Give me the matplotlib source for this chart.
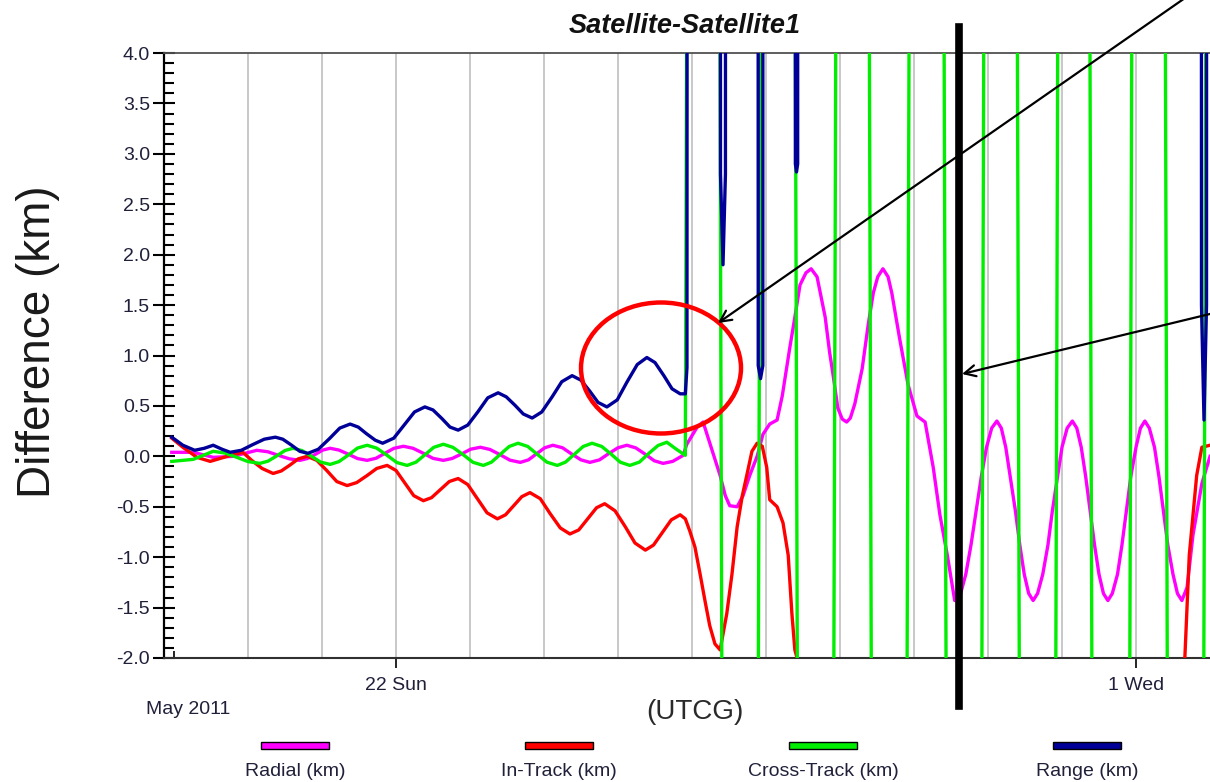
import matplotlib
matplotlib.use('Agg')
import matplotlib.pyplot as plt
from matplotlib.patches import Ellipse, Rectangle, FancyArrowPatch
from matplotlib.lines import Line2D
from matplotlib.ticker import MultipleLocator, FixedLocator, FormatStrFormatter

plt.rcParams['font.family'] = ['Liberation Sans', 'DejaVu Sans']

# time axis: day of May 2011 (32 = 1 June), values in km
radial_t = [18.97, 19.26, 19.53, 19.80, 20.12, 20.27, 20.41, 20.56, 20.70, 20.80,
            20.91, 21.01, 21.11, 21.23, 21.36, 21.48, 21.61, 21.73, 21.85, 21.97,
            22.10, 22.23, 22.37, 22.50, 22.64, 22.76, 22.89, 23.01, 23.14, 23.27,
            23.41, 23.54, 23.68, 23.79, 23.90, 24.01, 24.12, 24.25, 24.37, 24.50,
            24.62, 24.75, 24.87, 25.00, 25.12, 25.24, 25.37, 25.49, 25.61, 25.74,
            25.88, 25.93, 26.07, 26.15,
            26.28, 26.38, 26.45, 26.51, 26.61, 26.69, 26.78, 26.88, 26.96, 27.05,
            27.15, 27.22, 27.32, 27.39, 27.46, 27.54, 27.61, 27.69, 27.80, 27.86,
            27.91, 27.97, 28.03, 28.09, 28.14, 28.20, 28.30, 28.38, 28.45, 28.51,
            28.58, 28.65, 28.70, 28.81, 28.92, 29.04, 29.15, 29.26, 29.35, 29.45,
            29.55, 29.63, 29.70, 29.77, 29.84, 29.91, 29.98, 30.05, 30.12,
            30.18, 30.24, 30.30, 30.37, 30.43, 30.49, 30.55, 30.61,
            30.67, 30.74, 30.81, 30.87, 30.94, 31.00, 31.07, 31.14,
            31.20, 31.26, 31.32, 31.38, 31.44, 31.50, 31.56, 31.62,
            31.68, 31.75, 31.81, 31.87, 31.93, 32.00, 32.06, 32.12,
            32.18, 32.25, 32.31, 32.37, 32.43, 32.50, 32.56, 32.62,
            32.69, 32.77, 32.89, 33.00]
radial_v = [0.04, 0.04, -0.01, 0.00, 0.06, 0.045, 0.01, -0.025, -0.04, -0.022,
            0.02, 0.062, 0.08, 0.062, 0.02, -0.022, -0.04, -0.019, 0.03, 0.079,
            0.10, 0.08, 0.03, -0.02, -0.04, -0.021, 0.025, 0.071, 0.09, 0.068,
            0.015, -0.038, -0.06, -0.035, 0.025, 0.085, 0.11, 0.085, 0.025, -0.035,
            -0.06, -0.035, 0.025, 0.085, 0.11, 0.084, 0.02, -0.044, -0.07, -0.05,
            0.01, 0.12, 0.29, 0.34,
            0.04, -0.19, -0.39, -0.49, -0.50, -0.39, -0.19, 0.00, 0.22, 0.32,
            0.36, 0.60, 1.07, 1.38, 1.70, 1.82, 1.86, 1.78, 1.38, 1.03,
            0.79, 0.48, 0.37, 0.34, 0.38, 0.52, 0.87, 1.30, 1.62, 1.78,
            1.86, 1.78, 1.62, 1.15, 0.71, 0.40, 0.34, -0.11, -0.58, -0.98,
            -1.43, -1.36, -1.17, -0.88, -0.54, -0.20, 0.09, 0.28, 0.35,
            0.28, 0.09, -0.20, -0.54, -0.88, -1.17, -1.36, -1.43,
            -1.36, -1.17, -0.88, -0.54, -0.20, 0.09, 0.28, 0.35,
            0.28, 0.09, -0.20, -0.54, -0.88, -1.17, -1.36, -1.43,
            -1.36, -1.17, -0.88, -0.54, -0.20, 0.09, 0.28, 0.35,
            0.28, 0.09, -0.20, -0.54, -0.88, -1.17, -1.36, -1.43,
            -1.30, -0.78, -0.27, 0.00]

intrack_t = [18.97, 19.12, 19.31, 19.49, 19.72, 19.93, 20.05, 20.19, 20.34, 20.45,
             20.57, 20.68, 20.80, 20.93, 21.07, 21.20, 21.34, 21.47, 21.61, 21.74,
             21.88, 22.00, 22.12, 22.24, 22.37, 22.48, 22.60, 22.72, 22.84, 22.97,
             23.10, 23.23, 23.37, 23.48, 23.59, 23.70, 23.81, 23.95, 24.08, 24.22,
             24.35, 24.47, 24.59, 24.71, 24.82, 24.96, 25.10, 25.23, 25.37, 25.48,
             25.60, 25.72, 25.84, 25.91, 25.97, 26.04, 26.11,
             26.18, 26.24, 26.31, 26.38, 26.42, 26.47, 26.54, 26.61, 26.68, 26.74,
             26.81, 26.88, 26.95, 27.01, 27.05, 27.15, 27.23, 27.30, 27.35, 27.39,
             27.42, 27.46, 32.59, 32.66, 32.72, 32.82, 32.89, 33.00]
intrack_v = [0.18, 0.09, -0.01, -0.05, 0.00, 0.04, -0.04, -0.12, -0.17, -0.145,
             -0.085, -0.025, 0.00, -0.04, -0.145, -0.25, -0.29, -0.26, -0.19, -0.12,
             -0.09, -0.14, -0.265, -0.39, -0.44, -0.41, -0.33, -0.25, -0.22, -0.28,
             -0.42, -0.56, -0.62, -0.58, -0.49, -0.40, -0.36, -0.42, -0.565, -0.71,
             -0.77, -0.73, -0.62, -0.51, -0.47, -0.54, -0.70, -0.86, -0.93, -0.88,
             -0.755, -0.63, -0.58, -0.62, -0.74, -0.90, -1.17,
             -1.45, -1.68, -1.86, -1.92, -1.76, -1.56, -1.17, -0.70, -0.39, -0.19,
             0.05, 0.13, 0.10, -0.11, -0.43, -0.50, -0.66, -0.98, -1.56, -1.92,
             -2.00, -3.00, -3.00, -2.00, -0.98, -0.19, 0.09, 0.11]

cross_t = [18.97, 19.26, 19.53, 19.69, 19.85, 20.00, 20.16, 20.27, 20.39, 20.50,
           20.61, 20.73, 20.86, 20.98, 21.11, 21.23, 21.36, 21.48, 21.61, 21.74,
           21.88, 22.01, 22.15, 22.27, 22.39, 22.51, 22.64, 22.77, 22.91, 23.04,
           23.18, 23.29, 23.41, 23.53, 23.65, 23.78, 23.91, 24.04, 24.18, 24.29,
           24.41, 24.53, 24.65, 24.78, 24.91, 25.03, 25.16, 25.29, 25.41, 25.54,
           25.66, 25.78, 25.91,
           26.16, 26.39, 26.65, 26.91, 27.16, 27.41, 27.67, 27.93, 28.17, 28.41,
           28.66, 28.92, 29.17, 29.42, 29.68, 29.93, 30.17, 30.41, 30.66, 30.93,
           31.16, 31.39, 31.66, 31.93, 32.17, 32.41, 32.66, 32.93, 33.17]
cross_v = [-0.05, -0.03, 0.05, 0.032, -0.01, -0.052, -0.07, -0.048, 0.005, 0.058,
           0.08, 0.057, 0.00, -0.057, -0.08, -0.052, 0.015, 0.082, 0.11, 0.081,
           0.01, -0.061, -0.09, -0.058, 0.015, 0.089, 0.12, 0.089, 0.015, -0.059,
           -0.09, -0.058, 0.02, 0.098, 0.13, 0.098, 0.02, -0.058, -0.09, -0.058,
           0.02, 0.098, 0.13, 0.098, 0.02, -0.058, -0.09, -0.057, 0.025, 0.107,
           0.14, 0.075, 0.01,
           60, 1.0, -60, 1.0, 60, 1.0, -60, 1.0, 60, 1.0,
           -60, 1.0, 60, 1.0, -60, 1.0, 60, 1.0, -60, 1.0,
           60, 1.0, -60, 1.0, 60, 1.0, -60, 1.0, 60]

range_t = [18.97, 19.12, 19.28, 19.41, 19.53, 19.65, 19.76, 19.91, 20.06, 20.22,
           20.37, 20.47, 20.59, 20.70, 20.81, 20.95, 21.10, 21.24, 21.38, 21.49,
           21.60, 21.72, 21.82, 21.97, 22.11, 22.25, 22.39, 22.50, 22.62, 22.73,
           22.84, 22.97, 23.11, 23.24, 23.38, 23.49, 23.61, 23.72, 23.84, 23.97,
           24.11, 24.24, 24.38, 24.50, 24.62, 24.73, 24.85, 24.99, 25.12, 25.26,
           25.39, 25.50, 25.62, 25.73, 25.84, 25.91,
           25.932, 25.94, 26.378, 26.385, 26.419, 26.452, 26.459,
           26.889, 26.895, 26.926, 26.957, 26.962,
           27.392, 27.397, 27.412, 27.428, 27.432,
           32.878, 32.885, 32.919, 32.953, 32.959, 33.1]
range_v = [0.19, 0.11, 0.06, 0.08, 0.11, 0.07, 0.04, 0.06, 0.115, 0.17,
           0.19, 0.17, 0.11, 0.05, 0.03, 0.07, 0.175, 0.28, 0.32, 0.29,
           0.225, 0.16, 0.13, 0.18, 0.31, 0.44, 0.49, 0.46, 0.375, 0.29,
           0.26, 0.31, 0.445, 0.58, 0.63, 0.59, 0.505, 0.42, 0.38, 0.44,
           0.59, 0.74, 0.80, 0.755, 0.645, 0.535, 0.49, 0.56, 0.735, 0.91,
           0.98, 0.93, 0.80, 0.67, 0.62, 0.62,
           0.88, 25, 25, 2.8, 1.9, 2.8, 25,
           25, 0.9, 0.77, 0.9, 25,
           25, 2.9, 2.82, 2.9, 25,
           25, 1.5, 0.36, 1.5, 25, 25]

series = [
    ('Radial (km)', radial_t, radial_v, '#ff00ff'),
    ('In-Track (km)', intrack_t, intrack_v, '#ff0000'),
    ('Cross-Track (km)', cross_t, cross_v, '#00ee00'),
    ('Range (km)', range_t, range_v, '#000099'),
]

W, H = 1210, 782
fig = plt.figure(figsize=(W / 100, H / 100), dpi=100)
ax = fig.add_axes([164 / W, (H - 658) / H, (W - 164) / W, 605 / H])

# day gridlines
ax.vlines(range(20, 33), -2, 4, colors='#c4c4c4', lw=1.3, zorder=1)

for name, t, v, c in series:
    ax.plot(t, v, color=c, lw=2.4, zorder=3)

ax.set_xlim(18.865, 33.0)
ax.set_ylim(-2, 4)

tick_col = '#20203a'
ax.yaxis.set_major_locator(MultipleLocator(0.5))
ax.yaxis.set_minor_locator(MultipleLocator(0.1))
ax.yaxis.set_major_formatter(FormatStrFormatter('%.1f'))
ax.tick_params(axis='y', which='major', direction='inout', length=16, width=1.5,
               labelsize=14, labelcolor=tick_col, pad=2)
ax.tick_params(axis='y', which='minor', direction='in', length=7, width=1.5)

ax.xaxis.set_major_locator(FixedLocator([22, 32]))
ax.set_xticklabels(['22 Sun', '1 Wed'])
ax.xaxis.set_minor_locator(FixedLocator([19]))
ax.tick_params(axis='x', which='major', direction='out', length=7, width=1.2,
               labelsize=14, labelcolor=tick_col, pad=7)
ax.tick_params(axis='x', which='minor', direction='in', length=5, width=1.2)

ax.spines['right'].set_visible(False)
ax.spines['left'].set_linewidth(1.6)
ax.spines['left'].set_color('black')
ax.spines['bottom'].set_linewidth(1.5)
ax.spines['bottom'].set_color('#303030')
ax.spines['top'].set_linewidth(1.3)
ax.spines['top'].set_color('#505050')


def fx(x):
    return x / W


def fy(y):
    return 1 - y / H


fig.text(fx(685), fy(26), 'Satellite-Satellite1', ha='center', va='center',
         fontsize=19.5, weight='bold', style='italic', color='#111111')
fig.text(fx(38), fy(342), 'Difference (km)', rotation=90, ha='center', va='center',
         fontsize=33, color='#1a1a1a')
fig.text(fx(695), fy(712), '(UTCG)', ha='center', va='center', fontsize=20,
         color='#2a2a2a')
fig.text(fx(188), fy(709), 'May 2011', ha='center', va='center', fontsize=14,
         color=tick_col)

# legend: colored bars with labels underneath
for i, (name, t, v, c) in enumerate(series):
    cx = 295 + 264 * i
    fig.add_artist(Rectangle((fx(cx - 34), fy(749)), 68 / W, 7 / H, facecolor=c,
                             edgecolor='black', lw=1.0, transform=fig.transFigure))
    fig.text(fx(cx), fy(771), name, ha='center', va='center', fontsize=14,
             color=tick_col)

# annotations
fig.add_artist(Ellipse((fx(661), fy(368)), 160 / W, 131 / H, fill=False,
                       edgecolor='#ff0000', lw=3.2, transform=fig.transFigure, zorder=5))
fig.add_artist(Line2D([fx(959), fx(959)], [fy(27), fy(706)], color='black', lw=5.5,
                      transform=fig.transFigure, zorder=6))
for p0, p1 in [((1185, -2), (718, 323)), ((1214, 313), (962, 374))]:
    fig.add_artist(FancyArrowPatch((fx(p0[0]), fy(p0[1])), (fx(p1[0]), fy(p1[1])),
                                   arrowstyle='->,head_length=8,head_width=4',
                                   mutation_scale=1, color='black', lw=1.6,
                                   shrinkA=0, shrinkB=0, transform=fig.transFigure,
                                   zorder=7))

fig.savefig('out.png', dpi=100)
